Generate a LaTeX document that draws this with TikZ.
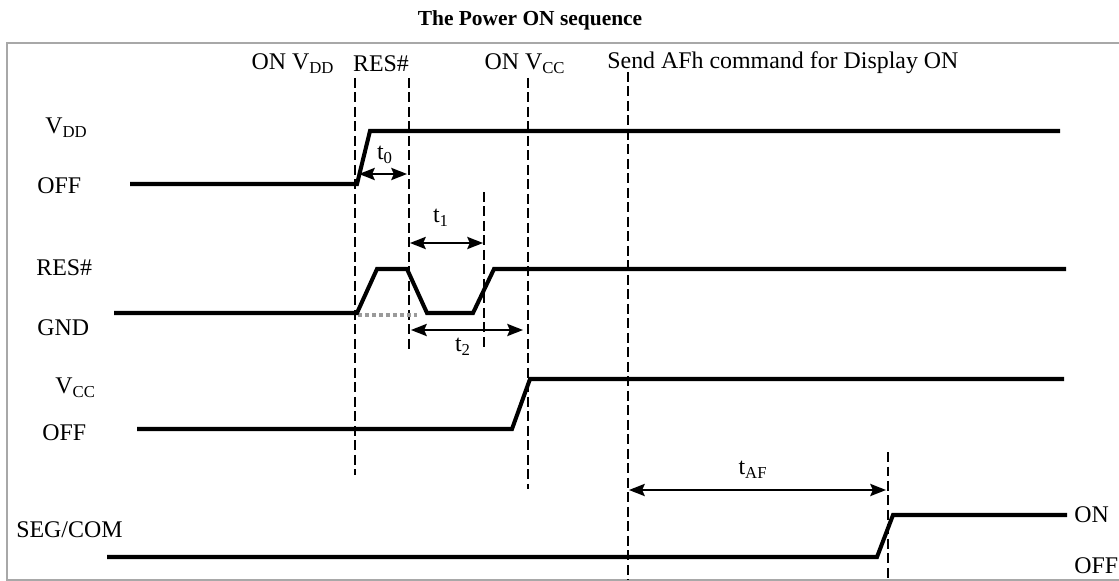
\documentclass[tikz,border=0pt]{standalone}
\usepackage{fontspec}
\setmainfont{Liberation Serif}
\usetikzlibrary{arrows.meta}
\definecolor{framegray}{HTML}{A8A8A8}
\definecolor{dotgray}{HTML}{9A9A9A}
\tikzset{
  every picture/.style={line join=miter, >=Stealth},
  sig/.style={line width=2.3pt},
  guide/.style={line width=0.8pt, dash pattern=on 0.2cm off 0.09cm},
  dim/.style={<->, >={Stealth[length=9pt,width=7pt,inset=1.5pt]}, line width=0.9pt},
  lbl/.style={font=\fontsize{13.6}{15}\selectfont, inner sep=0pt},
  ttl/.style={font=\fontsize{12.2}{14}\selectfont\bfseries, inner sep=0pt},
}
\newcommand{\lo}[1]{\textsubscript{#1}}

\begin{document}
\begin{tikzpicture}[x=0.02cm, y=-0.02cm]
\useasboundingbox (0,0) rectangle (1119,581);
\draw[framegray, line width=0.6pt] (1119,43) -- (7,43) -- (7,580) -- (1119,580);
\node[ttl] (title) at (530,20) {The Power ON sequence};
% event labels
\node[lbl] (onvdd) at (293,64) {ON V\lo{DD}};
\node[lbl] (resev) at (381,64) {RES\#};
\node[lbl] (onvcc) at (525,64) {ON V\lo{CC}};
\node[lbl, anchor=west] (afcmd) at (607,63) {Send AFh command for Display ON};
% signal labels
\node[lbl, anchor=west] (vddhi) at (45,128) {V\lo{DD}};
\node[lbl, anchor=west] (vddlo) at (37,186) {OFF};
\node[lbl, anchor=west] (reshi) at (36,268) {RES\#};
\node[lbl, anchor=west] (reslo) at (37,328) {GND};
\node[lbl, anchor=west] (vcchi) at (55,388) {V\lo{CC}};
\node[lbl, anchor=west] (vcclo) at (42,433) {OFF};
\node[lbl, anchor=west] (seg) at (16,530) {SEG/COM};
\node[lbl, anchor=west] (segon) at (1074,515) {ON};
\node[lbl, anchor=west] (segoff) at (1074,566) {OFF};
% guide lines
\coordinate (ga1) at (355,78);  \coordinate (ga2) at (355,475);
\coordinate (gb1) at (409,78);  \coordinate (gb2) at (409,352);
\coordinate (gc1) at (484,192); \coordinate (gc2) at (484,350);
\coordinate (gd1) at (528,78);  \coordinate (gd2) at (528,489);
\coordinate (ge1) at (628,72);  \coordinate (ge2) at (628,580);
\coordinate (gf1) at (888,452); \coordinate (gf2) at (888,580);
\foreach \g in {ga,gb,gc,gd,ge,gf}
  \draw[guide] (\g1) -- (\g2);
% waveforms
\draw[sig] (130,184) -- (357,184) -- (370,131) -- (1060,131);
\draw[dotgray, line width=2.3pt, dash pattern=on 0.08cm off 0.06cm] (358,315) -- (417,315);
\draw[sig] (114,313) -- (357,313) -- (377,269) -- (407,269) -- (427,313)
  -- (473,313) -- (494,269) -- (1066,269);
\draw[sig] (137,429) -- (512,429) -- (530,379) -- (1064,379);
\draw[sig] (107,557) -- (877,557) -- (893,515) -- (1067,515);
% timing arrows
\coordinate (t0a) at (359,174); \coordinate (t0b) at (407,174);
\coordinate (t1a) at (410,243); \coordinate (t1b) at (483,243);
\coordinate (t2a) at (411,330); \coordinate (t2b) at (523,330);
\coordinate (tfa) at (629,490); \coordinate (tfb) at (886,490);
\draw[dim] (t0a) -- (t0b);
\draw[dim] (t1a) -- (t1b);
\draw[dim] (t2a) -- (t2b);
\draw[dim] (tfa) -- (tfb);
\node[lbl] (t0) at (385,155) {t\lo{0}};
\node[lbl] (t1) at (441,218) {t\lo{1}};
\node[lbl] (t2) at (463,347) {t\lo{2}};
\node[lbl] (taf) at (753,470) {t\lo{AF}};
\end{tikzpicture}
\end{document}
